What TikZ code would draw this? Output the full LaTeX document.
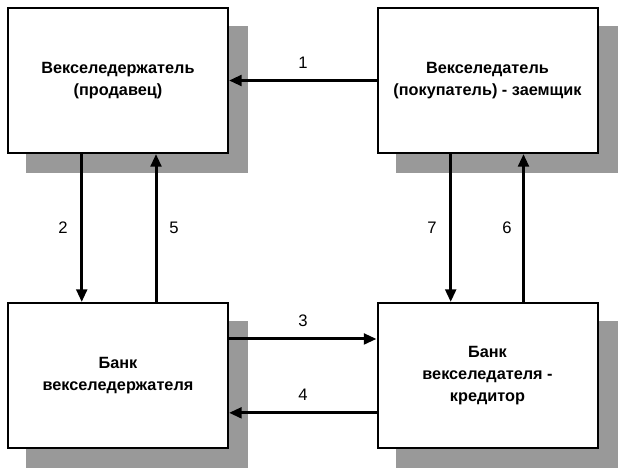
\documentclass[tikz,border=0pt]{standalone}
\usepackage{fontspec}
\setmainfont{Liberation Sans}
\usetikzlibrary{arrows.meta,shadows}
\definecolor{shadowgray}{RGB}{153,153,153}
\begin{document}
\begin{tikzpicture}[x=0.75pt,y=-0.75pt,line join=miter,
    party/.style={draw,fill=white,line width=1.5pt,minimum width=165pt,minimum height=108.75pt,
      align=center,inner sep=0pt,font=\fontsize{12.2}{16.4}\selectfont\bfseries,
      drop shadow={shadow xshift=14.25pt,shadow yshift=-14pt,fill=shadowgray,draw=shadowgray,opacity=1}},
    flow/.style={line width=2.25pt,-{Triangle[length=9.5pt,width=8pt]}},
    num/.style={font=\fontsize{12.5}{14}\selectfont}]
        \useasboundingbox (0,0) rectangle (621,475);

        \node[party] (holder) at (118,80.5) {Векселедержатель\\(продавец)};
        \node[party] (buyer) at (487.5,80.5) {Векселедатель\\(покупатель) - заемщик};
        \node[party] (hbank) at (118,375.5) {Банк\\векселедержателя};
        \node[party] (bbank) at (487.5,375.5) {Банк\\векселедателя -\\кредитор};

        \draw[flow] (buyer.west) -- (holder.east);
        \draw[flow] ([xshift=-27.2pt]holder.south) -- ([xshift=-27.2pt]hbank.north);
        \draw[flow] ([xshift=28.5pt]hbank.north) -- ([xshift=28.5pt]holder.south);
        \draw[flow] ([yshift=27.4pt]hbank.east) -- ([yshift=27.4pt]bbank.west);
        \draw[flow] ([yshift=-28pt]bbank.west) -- ([yshift=-28pt]hbank.east);
        \draw[flow] ([xshift=27pt]bbank.north) -- ([xshift=27pt]buyer.south);
        \draw[flow] ([xshift=-27.6pt]buyer.south) -- ([xshift=-27.6pt]bbank.north);

        \node[num] (n1) at (303,63) {1};
        \node[num] (n2) at (63,228) {2};
        \node[num] (n3) at (303,321) {3};
        \node[num] (n4) at (303,395) {4};
        \node[num] (n5) at (174,228) {5};
        \node[num] (n6) at (507,228) {6};
        \node[num] (n7) at (432,228) {7};
\end{tikzpicture}
\end{document}
